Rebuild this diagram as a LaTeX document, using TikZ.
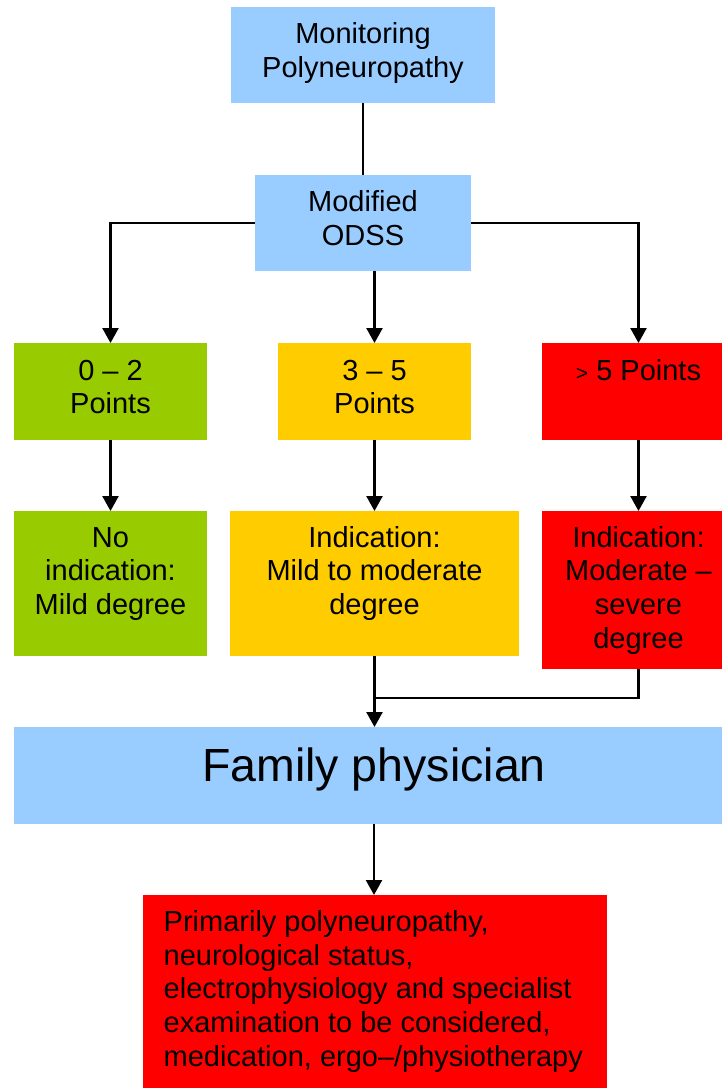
\documentclass[tikz,border=0pt]{standalone}
\usepackage{fontspec}
\setmainfont{Liberation Sans}
\usetikzlibrary{arrows.meta}
\definecolor{lblue}{HTML}{99CCFF}
\definecolor{lgreen}{HTML}{99CC00}
\definecolor{lyellow}{HTML}{FFCC00}
\definecolor{lred}{HTML}{FF0000}
\begin{document}
\begin{tikzpicture}[x=1pt,y=-1pt,
  box/.style={anchor=north west,inner sep=0pt,outer sep=0pt,draw=none},
  txt/.style={anchor=base,align=center,inner sep=0pt,font=\fontsize{29}{33.8}\selectfont},
  conn/.style={line width=2.4pt,-{Triangle[length=15pt,width=16pt]}},
  plain/.style={line width=2.4pt}]
\useasboundingbox (0,0) rectangle (722,1088);
\clip (0,0) rectangle (722,1088);
% boxes
\node[box,fill=lblue,minimum width=264pt,minimum height=96pt] (mon) at (231,7) {};
\node[box,fill=lblue,minimum width=216pt,minimum height=96pt] (odss) at (255,175) {};
\node[box,fill=lgreen,minimum width=193pt,minimum height=97pt] (g1) at (14,343) {};
\node[box,fill=lyellow,minimum width=193pt,minimum height=97pt] (y1) at (278,343) {};
\node[box,fill=lred,minimum width=193pt,minimum height=97pt] (r1) at (542,343) {};
\node[box,fill=lgreen,minimum width=193pt,minimum height=145pt] (g2) at (14,511) {};
\node[box,fill=lyellow,minimum width=289pt,minimum height=145pt] (y2) at (230,511) {};
\node[box,fill=lred,minimum width=193pt,minimum height=158pt] (r2) at (542,511) {};
\node[box,fill=lblue,minimum width=720pt,minimum height=97pt] (fam) at (14,727) {};
\node[box,fill=lred,minimum width=464pt,minimum height=205pt] (fin) at (143,895) {};
% texts (anchor base = baseline of last line)
\node[txt] (tmon) at (363,77.3) {Monitoring\\Polyneuropathy};
\node[txt] (todss) at (363,245.5) {Modified\\ODSS};
\node[txt] (tg1) at (110.5,413.8) {0 – 2\\Points};
\node[txt] (ty1) at (374.5,413.8) {3 – 5\\Points};
\node[txt] (tr1) at (638.5,380) {{\fontsize{21}{21}\selectfont >}~5 Points};
\node[txt] (tg2) at (110.5,614.6) {No\\indication:\\Mild degree};
\node[txt] (ty2) at (374.5,614.6) {Indication:\\Mild to moderate\\degree};
\node[txt] (tr2) at (638.5,648.4) {Indication:\\Moderate –\\severe\\degree};
\node[anchor=base,inner sep=0pt,font=\fontsize{46.5}{50}\selectfont] (tfam) at (374,781.7) {Family physician};
\node[anchor=base west,align=left,inner sep=0pt,font=\fontsize{29}{33.6}\selectfont] (tfin) at (163.5,1066.1)
  {Primarily polyneuropathy,\\neurological status,\\electrophysiology and specialist\\examination to be considered,\\medication, ergo–/physiotherapy};
% connectors
\draw[line width=1.5pt] (mon.south) -- (odss.north);
\draw[conn] (odss.west) -| (g1.north);
\draw[conn] (odss.east) -| (r1.north);
\draw[conn] (y1.north |- odss.south) -- (y1.north);
\draw[conn] (g1.south) -- (g2.north);
\draw[conn] (y1.south) -- (y2.north);
\draw[conn] (r1.south) -- (r2.north);
\coordinate (join) at (374.5,698);
\draw[conn] (y2.south) -- (y2.south |- fam.north);
\draw[plain] (r2.south) |- (join);
\draw[conn] (fam.south) -- (fam.south |- fin.north);
\end{tikzpicture}
\end{document}
